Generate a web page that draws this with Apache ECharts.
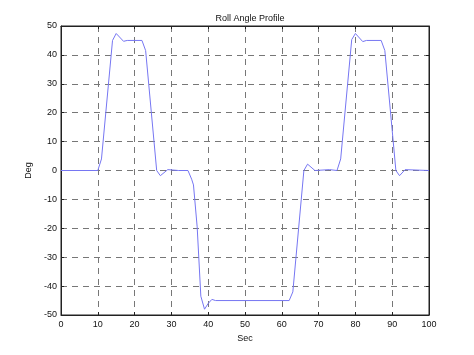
<!DOCTYPE html>
<html>
<head>
<meta charset="utf-8">
<script src="https://cdn.jsdelivr.net/npm/echarts@6/dist/echarts.min.js"></script>
<style>
  html, body { margin: 0; padding: 0; background: #fff; }
  #chart { width: 474px; height: 355px; }
</style>
</head>
<body>
<div id="chart"></div>
<script>
// time samples (s) and roll angle (deg)
var timeSec = [0, 10, 11, 14, 15, 17, 18, 22, 23, 26, 27, 29, 32, 34.5, 35.5, 36, 37, 38, 39, 40, 41, 42,
  62, 63, 66, 67, 69, 73, 75, 76, 79, 80, 82, 83, 87, 88, 91, 92, 93.5, 100];
var rollDeg = [0, 0, 4, 45, 47.4, 44.7, 45, 45, 41.5, 0, -1.8, 0.3, 0, 0, -3, -5, -19.5, -43.5, -48, -46, -44.6, -45,
  -45, -42, 0, 2.2, 0, 0.3, 0, 4, 45.3, 47.4, 44.6, 45, 45, 41.5, 0, -1.8, 0.3, 0];
var xTicks = [0, 100, 10];
var yTicks = [-50, 50, 10];

var seriesData = timeSec.map(function (t, i) { return [t, rollDeg[i]]; });

var chart = echarts.init(document.getElementById('chart'));
var font = 'Liberation Sans, Arial, sans-serif';
var gridDash = { color: '#777', width: 1, type: [6, 5] };
var frameLine = { show: true, onZero: false, lineStyle: { color: '#222' } };
var inTick = { inside: true, length: 3, lineStyle: { color: '#222' } };

chart.setOption({
  animation: false,
  title: {
    text: 'Roll Angle Profile',
    left: 245, top: 9, textAlign: 'center',
    textStyle: { fontSize: 9, fontWeight: 'normal', color: '#111', fontFamily: font }
  },
  grid: { left: 61, top: 26, right: 45, bottom: 40, show: true, borderColor: '#222', borderWidth: 1 },
  xAxis: [{
    type: 'value', min: xTicks[0], max: xTicks[1], interval: xTicks[2],
    name: 'Sec', nameLocation: 'middle', nameGap: 18,
    nameTextStyle: { fontSize: 9, color: '#111', fontFamily: font },
    axisLine: frameLine, axisTick: inTick,
    axisLabel: { fontSize: 9, color: '#111', fontFamily: font, margin: 5 },
    splitLine: { show: true, lineStyle: gridDash }
  }, {
    type: 'value', position: 'top', min: xTicks[0], max: xTicks[1], interval: xTicks[2],
    axisLine: frameLine, axisTick: inTick,
    axisLabel: { show: false }, splitLine: { show: false }
  }],
  yAxis: [{
    type: 'value', min: yTicks[0], max: yTicks[1], interval: yTicks[2],
    name: 'Deg', nameLocation: 'middle', nameGap: 20,
    nameTextStyle: { fontSize: 9, color: '#111', fontFamily: font },
    axisLine: frameLine, axisTick: inTick,
    axisLabel: { fontSize: 9, color: '#111', fontFamily: font, margin: 4 },
    splitLine: { show: true, lineStyle: gridDash }
  }, {
    type: 'value', position: 'right', min: yTicks[0], max: yTicks[1], interval: yTicks[2],
    axisLine: frameLine, axisTick: inTick,
    axisLabel: { show: false }, splitLine: { show: false }
  }],
  series: [{
    type: 'line',
    data: seriesData,
    showSymbol: false,
    lineStyle: { color: '#7676f2', width: 1 },
    itemStyle: { color: '#7676f2' }
  }]
});
</script>
</body>
</html>
